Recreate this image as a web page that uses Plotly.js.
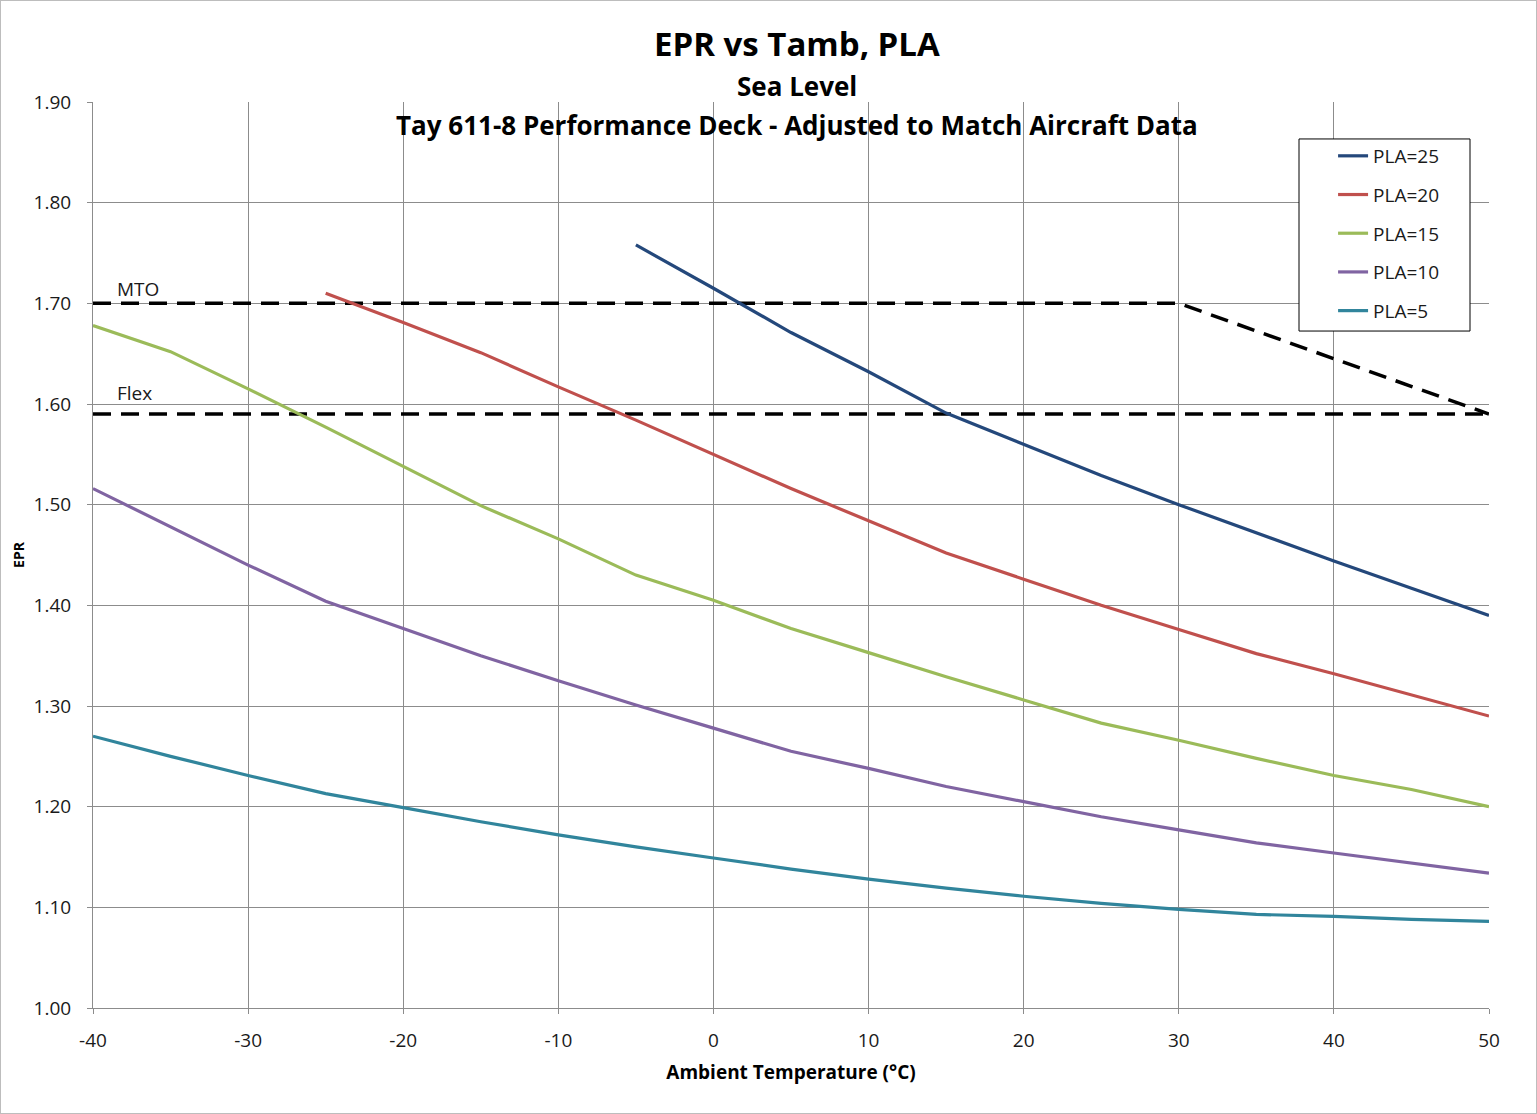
<!DOCTYPE html>
<html>
<head>
<meta charset="utf-8">
<script src="https://cdn.plot.ly/plotly-3.0.1.min.js"></script>
<style>
html,body{margin:0;padding:0;background:#fff;}
#frame{width:1537px;height:1114px;box-sizing:border-box;border:1px solid #bdbdbd;}
#chart{width:1535px;height:1112px;}
</style>
</head>
<body>
<div id="frame"><div id="chart"></div></div>
<script>
// Ambient temperature (°C)
const tempAll = [-40,-35,-30,-25,-20,-15,-10,-5,0,5,10,15,20,25,30,35,40,45,50];
const tempPLA25 = [-5,0,5,10,15,20,25,30,35,40,45,50];
const tempPLA20 = [-25,-20,-15,-10,-5,0,5,10,15,20,25,30,35,40,45,50];

// EPR values per PLA
const eprPLA25 = [1.758,1.715,1.671,1.632,1.591,1.560,1.529,1.500,1.472,1.444,1.417,1.390];
const eprPLA20 = [1.710,1.681,1.651,1.617,1.584,1.550,1.516,1.484,1.452,1.426,1.400,1.376,1.352,1.332,1.311,1.290];
const eprPLA15 = [1.678,1.652,1.615,1.577,1.538,1.499,1.466,1.430,1.405,1.377,1.353,1.329,1.306,1.283,1.266,1.248,1.231,1.217,1.200];
const eprPLA10 = [1.516,1.478,1.440,1.404,1.377,1.350,1.325,1.301,1.278,1.255,1.238,1.220,1.205,1.190,1.177,1.164,1.154,1.144,1.134];
const eprPLA5  = [1.270,1.250,1.231,1.213,1.199,1.185,1.172,1.160,1.149,1.138,1.128,1.119,1.111,1.104,1.098,1.093,1.091,1.088,1.086];

// Limit lines
const mtoTemp = [-40,30,50];
const mtoEPR  = [1.70,1.70,1.59];
const flexTemp = [-40,50];
const flexEPR  = [1.59,1.59];

// Tick values / labels
const xTickVals = [-40,-30,-20,-10,0,10,20,30,40,50];
const xTickText = ["-40","-30","-20","-10","0","10","20","30","40","50"];

const seriesNames = ["PLA=25","PLA=20","PLA=15","PLA=10","PLA=5"];
const seriesColors = ["#24487B","#C0504D","#9BBB59","#8064A2","#31859C"];

const FONT = "'Open Sans', 'Liberation Sans', sans-serif";

const traces = [
  {x: mtoTemp, y: mtoEPR, mode:"lines", line:{color:"#000",width:3.5,dash:"18px,10px"}, showlegend:false, hoverinfo:"skip"},
  {x: flexTemp, y: flexEPR, mode:"lines", line:{color:"#000",width:3.5,dash:"18px,10px"}, showlegend:false, hoverinfo:"skip"},
];
const xs = [tempPLA25, tempPLA20, tempAll, tempAll, tempAll];
const ys = [eprPLA25, eprPLA20, eprPLA15, eprPLA10, eprPLA5];
for (let i=0;i<5;i++){
  traces.push({x: xs[i], y: ys[i], mode:"lines", name: seriesNames[i],
    legendgroup: "g"+i, line:{color: seriesColors[i], width:3.2}});
}

const layout = {
  width:1535, height:1112,
  margin:{l:92,r:47,t:101,b:105},
  paper_bgcolor:"#fff", plot_bgcolor:"#fff",
  font:{family:FONT, color:"#000", size:17},
  showlegend:true,
  legend:{x:0.8883, y:0.9614, xanchor:"left", yanchor:"top",
    bgcolor:"rgba(0,0,0,0)", borderwidth:0,
    font:{family:FONT,size:19,color:"#1a1a1a"}, traceorder:"grouped", tracegroupgap:11,
    itemwidth:30},
  xaxis:{range:[-40,50], tickvals:xTickVals, ticktext:xTickText, showgrid:true, gridcolor:"#8c8c8c", gridwidth:1,
    zeroline:false, showline:true, linecolor:"#8c8c8c", linewidth:1,
    ticks:"outside", ticklen:5, tickcolor:"#8c8c8c", ticklabelstandoff:10,
    tickfont:{family:FONT,size:19,color:"#1a1a1a"},
    title:{text:"<b>Ambient Temperature (°C)</b>", font:{family:FONT,size:19,color:"#000"}, standoff:13}},
  yaxis:{range:[1.0,1.9], dtick:0.1, tick0:1.0, tickformat:".2f", showgrid:true, gridcolor:"#8c8c8c", gridwidth:1,
    zeroline:false, showline:true, linecolor:"#8c8c8c", linewidth:1,
    ticks:"outside", ticklen:5, tickcolor:"#8c8c8c", ticklabelstandoff:12,
    tickfont:{family:FONT,size:19,color:"#1a1a1a"},
    title:{text:"<b>EPR</b>", font:{family:FONT,size:14,color:"#000"}, standoff:5}},
  shapes:[
    {type:"rect", xref:"paper", yref:"paper", x0:0.8639, x1:0.9864, y0:0.7472, y1:0.9592,
      line:{color:"#000",width:1}, fillcolor:"#fff", layer:"above"}
  ],
  annotations:[
    {xref:"paper", yref:"paper", x:0.504, y:1.0+(101-42)/906, text:"<b>EPR vs Tamb, PLA</b>", showarrow:false,
      font:{family:FONT,size:33,color:"#000"}, xanchor:"center", yanchor:"middle"},
    {xref:"paper", yref:"paper", x:0.504, y:1.0+(101-85)/906, text:"<b>Sea Level</b>", showarrow:false,
      font:{family:FONT,size:26,color:"#000"}, xanchor:"center", yanchor:"middle"},
    {xref:"paper", yref:"paper", x:0.504, y:1.0-(124-101)/906, text:"<b>Tay 611-8 Performance Deck - Adjusted to Match Aircraft Data</b>", showarrow:false,
      font:{family:FONT,size:26,color:"#000"}, xanchor:"center", yanchor:"middle"},
    {xref:"x", yref:"y", x:-38.6, y:1.70, text:"MTO", showarrow:false, xanchor:"left", yanchor:"bottom", yshift:-1,
      font:{family:FONT,size:19,color:"#1a1a1a"}},
    {xref:"x", yref:"y", x:-38.6, y:1.59, text:"Flex", showarrow:false, xanchor:"left", yanchor:"bottom", yshift:6,
      font:{family:FONT,size:19,color:"#1a1a1a"}}
  ]
};

Plotly.newPlot("chart", traces, layout, {displayModeBar:false, staticPlot:true});
</script>
</body>
</html>
